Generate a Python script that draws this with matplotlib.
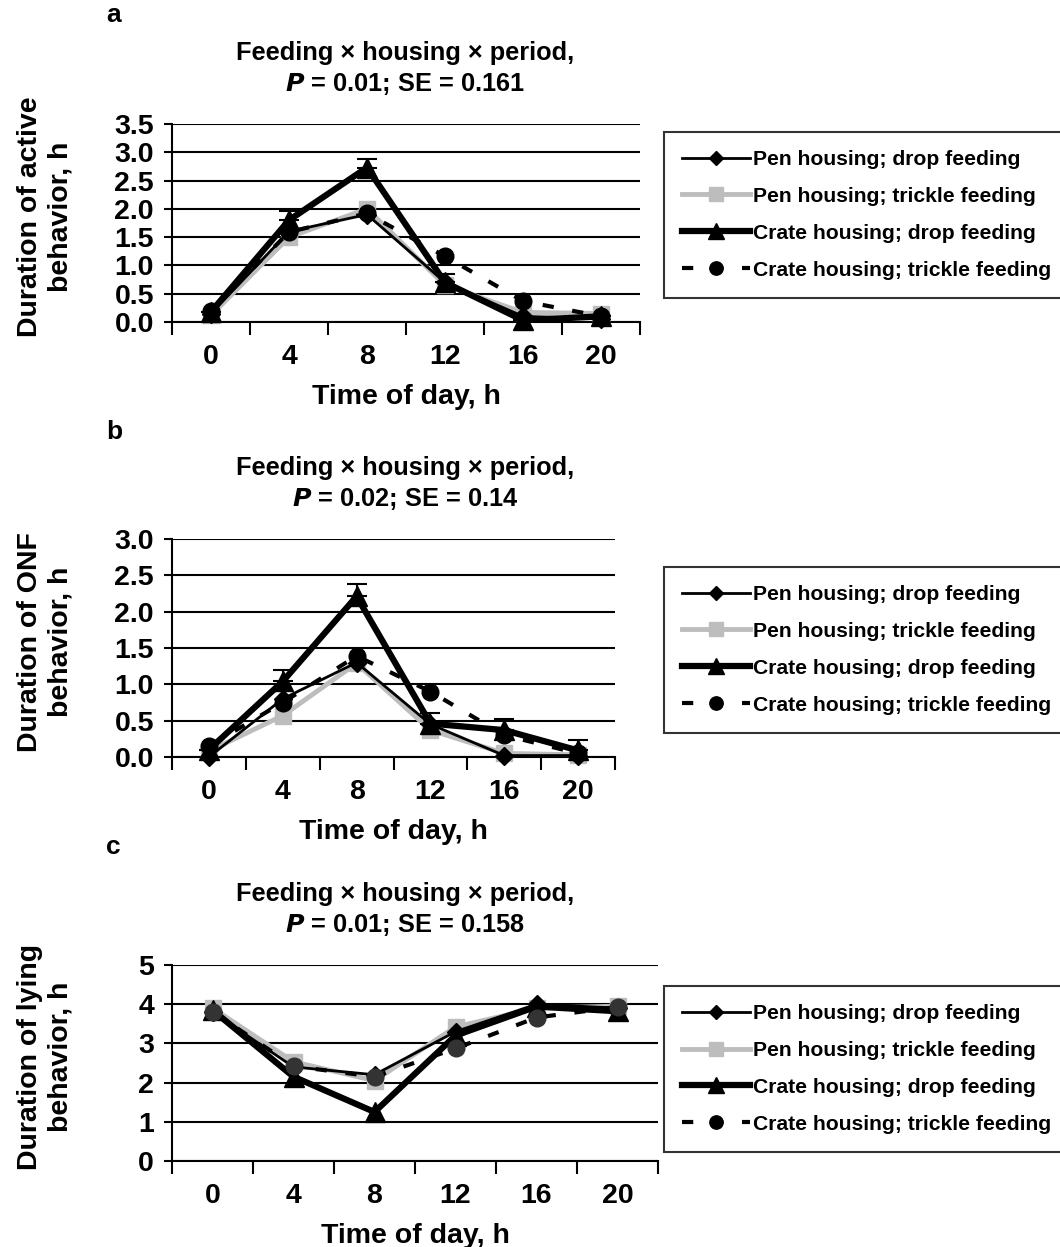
import numpy as np
import matplotlib.pyplot as plt
from matplotlib.lines import Line2D

plt.rcParams['font.family'] = ['Liberation Sans', 'DejaVu Sans']
plt.rcParams['font.weight'] = 'bold'

# Data
hours = ['0', '4', '8', '12', '16', '20']
series_names = ['Pen housing; drop feeding', 'Pen housing; trickle feeding',
                'Crate housing; drop feeding', 'Crate housing; trickle feeding']

# panel a: active behavior
active_pen_drop = [0.15, 1.6, 1.9, 0.7, 0.1, 0.06]
active_pen_trickle = [0.12, 1.5, 2.0, 0.65, 0.17, 0.15]
active_crate_drop = [0.18, 1.8, 2.73, 0.7, 0.03, 0.1]
active_crate_trickle = [0.2, 1.59, 1.92, 1.16, 0.37, 0.1]
active_crate_drop_err = [0.0, 0.16, 0.16, 0.14, 0.0, 0.0]

# panel b: ONF behavior
onf_pen_drop = [0.0, 0.8, 1.3, 0.45, 0.02, 0.02]
onf_pen_trickle = [0.08, 0.57, 1.29, 0.37, 0.05, 0.03]
onf_crate_drop = [0.1, 1.04, 2.21, 0.46, 0.37, 0.09]
onf_crate_trickle = [0.15, 0.75, 1.39, 0.9, 0.3, 0.05]
onf_crate_drop_err = [0.0, 0.16, 0.17, 0.15, 0.15, 0.15]

# panel c: lying behavior
lying_pen_drop = [3.8, 2.4, 2.2, 3.3, 4.0, 3.9]
lying_pen_trickle = [3.9, 2.53, 2.05, 3.42, 3.9, 3.95]
lying_crate_drop = [3.85, 2.15, 1.25, 3.2, 3.94, 3.82]
lying_crate_trickle = [3.81, 2.42, 2.15, 2.87, 3.66, 3.93]

W, H = 1060, 1247
fig = plt.figure(figsize=(W / 100, H / 100), dpi=100)


def rect(left, top, right, bottom):
    return [left / W, 1 - bottom / H, (right - left) / W, (bottom - top) / H]


styles = [
    dict(color='black', lw=2, marker='D', ms=9, ls='-', zorder=5),
    dict(color='#bdbdbd', lw=3.5, marker='s', ms=12, ls='-', zorder=3),
    dict(color='black', lw=4.5, marker='^', ms=14, ls='-', zorder=4),
    dict(color='black', lw=3, marker='o', ms=12, ls=(0, (2.7, 4.5)), zorder=6),
]

panels = [
    dict(box=(172, 124, 640, 322), ylim=3.5, step=0.5, fmt='%.1f', letter='a', letter_y=15,
         label='Duration of active\nbehavior, h', stat='0.01', se='0.161',
         data=[active_pen_drop, active_pen_trickle, active_crate_drop, active_crate_trickle],
         err=active_crate_drop_err, leg_top=132),
    dict(box=(172, 539, 615, 757), ylim=3.0, step=0.5, fmt='%.1f', letter='b', letter_y=432,
         label='Duration of ONF\nbehavior, h', stat='0.02', se='0.14',
         data=[onf_pen_drop, onf_pen_trickle, onf_crate_drop, onf_crate_trickle],
         err=onf_crate_drop_err, leg_top=567),
    dict(box=(172, 965, 658, 1161), ylim=5, step=1, fmt='%d', letter='c', letter_y=847,
         label='Duration of lying\nbehavior, h', stat='0.01', se='0.158',
         data=[lying_pen_drop, lying_pen_trickle, lying_crate_drop, lying_crate_trickle],
         err=None, leg_top=986),
]

x = np.arange(len(hours))

for p in panels:
    l, t, r, b = p['box']
    ax = fig.add_axes(rect(l, t, r, b))
    for i, (vals, st) in enumerate(zip(p['data'], styles)):
        mfc = '#333333' if (i == 3 and p['letter'] == 'c') else st['color']
        ax.plot(x, vals, color=st['color'], lw=st['lw'], ls=st['ls'], marker=st['marker'],
                ms=st['ms'], mfc=mfc, mec=mfc, zorder=st['zorder'], clip_on=False)
    if p['err'] is not None:
        ax.errorbar(x, p['data'][2], yerr=[np.zeros(len(x)), p['err']], fmt='none',
                    ecolor='black', elinewidth=1.5, capsize=7, capthick=1.5, zorder=4)
    ax.set_xlim(-0.5, 5.5)
    ax.set_ylim(0, p['ylim'])
    yt = np.arange(0, p['ylim'] + 1e-9, p['step'])
    ax.set_yticks(yt)
    ax.set_yticklabels([p['fmt'] % v for v in yt])
    ax.yaxis.grid(True, color='black', lw=1.5)
    ax.set_axisbelow(True)
    ax.set_xticks(x)
    ax.set_xticklabels(hours)
    ax.set_xticks(np.arange(-0.5, 6, 1), minor=True)
    ax.tick_params(axis='x', which='major', length=0, pad=16, labelsize=20.5)
    ax.tick_params(axis='x', which='minor', length=9, width=1.5, direction='out')
    ax.tick_params(axis='y', length=6, width=1.5, pad=7, labelsize=20.5)
    for s in ['top', 'right']:
        ax.spines[s].set_visible(False)
    for s in ['left', 'bottom']:
        ax.spines[s].set_linewidth(1.5)
    ax.set_xlabel('Time of day, h', fontsize=20.5, fontweight='bold', labelpad=10)
    fig.text(45 / W, 1 - ((t + b) / 2 - 6) / H, p['label'], rotation=90, fontsize=20.5,
             fontweight='bold', ha='center', va='center', linespacing=1.2)
    fig.text(405 / W, 1 - (t - 27) / H,
             'Feeding \u00d7 housing \u00d7 period,\n$\\mathbfit{P}$ = %s; SE = %s' % (p['stat'], p['se']),
             ha='center', va='bottom', fontsize=18.3, fontweight='bold', linespacing=1.3)
    fig.text(106 / W, 1 - p['letter_y'] / H, p['letter'], fontsize=19, fontweight='bold',
             ha='left', va='center')

    handles = [Line2D([], [], color=st['color'], lw=st['lw'], ls=st['ls'], marker=st['marker'],
                      ms=st['ms'] * 0.8) for st in styles]
    leg = fig.legend(handles, series_names, loc='upper left',
                     bbox_to_anchor=(664 / W, 1 - p['leg_top'] / H), bbox_transform=fig.transFigure,
                     fontsize=15.2, frameon=True, fancybox=False, edgecolor='black',
                     handlelength=3.2, handletextpad=0.18, labelspacing=0.85, borderpad=0.85,
                     borderaxespad=0)
    leg.get_frame().set_linewidth(1.5)

plt.savefig('out.png', dpi=100)
